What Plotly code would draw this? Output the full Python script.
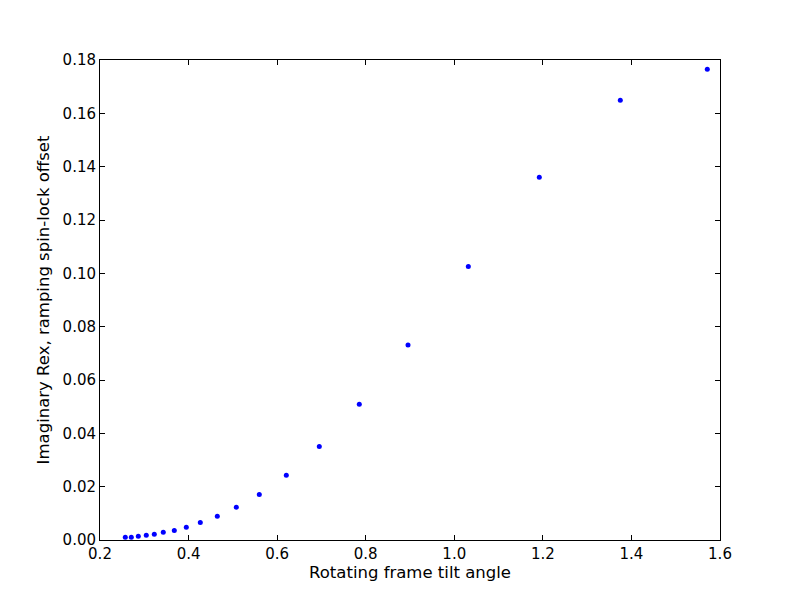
import plotly.graph_objects as go

tilt_angle = [0.2571, 0.2707, 0.2865, 0.3045, 0.3226, 0.3429, 0.3678, 0.3949,
              0.4265, 0.4649, 0.5078, 0.5597, 0.6207, 0.6952, 0.7855, 0.8955,
              1.0317, 1.1920, 1.3749, 1.5713]
rex_imag = [0.0010, 0.0010, 0.0014, 0.0018, 0.0022, 0.0029, 0.0036, 0.0048,
            0.0066, 0.0089, 0.0123, 0.0171, 0.0243, 0.0351, 0.0509, 0.0731,
            0.1026, 0.1360, 0.1649, 0.1765]

x_ticks = [0.2, 0.4, 0.6, 0.8, 1.0, 1.2, 1.4, 1.6]
y_ticks = [0.00, 0.02, 0.04, 0.06, 0.08, 0.10, 0.12, 0.14, 0.16, 0.18]

fig = go.Figure()
fig.add_trace(go.Scatter(
    x=tilt_angle, y=rex_imag, mode="markers",
    marker=dict(color="#0000ff", size=5, line=dict(width=0)),
    showlegend=False,
))

axis_common = dict(
    showgrid=False, zeroline=False, showline=True, linecolor="black", linewidth=1,
    mirror="allticks", ticks="inside", ticklen=5, tickwidth=1, tickcolor="black",
    tickfont=dict(family="DejaVu Sans", size=15, color="black"),
)

title_font = dict(family="DejaVu Sans", size=16.5, color="black")

fig.update_layout(
    width=792, height=592,
    margin=dict(l=92, r=80, t=52, b=60),
    paper_bgcolor="white", plot_bgcolor="white",
    font=dict(family="DejaVu Sans", size=15, color="black"),
    xaxis=dict(range=[0.2, 1.6], tickvals=x_ticks, tickformat=".1f",
               title=dict(text="Rotating frame tilt angle", standoff=4, font=title_font),
               **axis_common),
    yaxis=dict(range=[0.0, 0.18], tickvals=y_ticks, tickformat=".2f",
               title=dict(text="Imaginary Rex, ramping spin-lock offset", standoff=8, font=title_font),
               **axis_common),
)

fig.write_html("out.html")
